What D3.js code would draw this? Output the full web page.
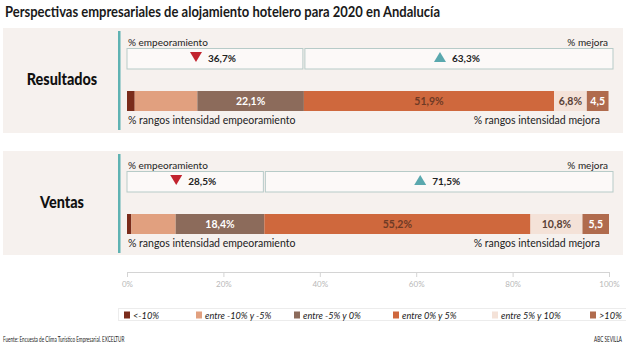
<!DOCTYPE html>
<html>
<head>
<meta charset="utf-8">
<script src="https://cdn.jsdelivr.net/npm/d3@7"></script>
<style>
  body { margin: 0; background: #fff; }
  svg { display: block; font-family: Lato, "Open Sans", sans-serif; }
</style>
</head>
<body>
<script>
// data
const categories = ["Resultados", "Ventas"];
const empeoramiento = [36.7, 28.5];
const mejora = [63.3, 71.5];
const rangeNames = ["<-10%", "entre -10% y -5%", "entre -5% y 0%", "entre 0% y 5%", "entre 5% y 10%", ">10%"];
const resultadosRanges = [1.6, 13.0, 22.1, 51.9, 6.8, 4.5];
const ventasRanges = [0.9, 9.2, 18.4, 55.2, 10.8, 5.5];
const axisTicks = [0, 20, 40, 60, 80, 100];

const rangeColors = ["#7a2c1b", "#e1a07f", "#8c6b5b", "#cf683d", "#f4e2d8", "#b06b4d"];
const labelColors = [null, null, "#fff", "#6e3a25", "#5a4035", "#fff"];

const w = 626, h = 349;
const svg = d3.select("body").append("svg").attr("width", w).attr("height", h);

const x = d3.scaleLinear().domain([0, 100]).range([127, 609]);
const fmt = v => d3.format(".1f")(v).replace(".", ",");

// title (condensed look)
svg.append("text")
   .attr("x", 5).attr("y", 17)
   .attr("font-size", 16).attr("font-weight", "bold").attr("fill", "#1a1a1a")
   .attr("textLength", 435).attr("lengthAdjust", "spacingAndGlyphs")
   .text("Perspectivas empresariales de alojamiento hotelero para 2020 en Andalucía");

const panelTops = [28, 151];
const allRanges = [resultadosRanges, ventasRanges];

categories.forEach((cat, i) => {
	const y0 = panelTops[i];
	const g = svg.append("g").attr("transform", "translate(0," + y0 + ")");

	g.append("rect").attr("x", 3).attr("y", 0).attr("width", 620).attr("height", i === 0 ? 105 : 104)
	 .attr("fill", "#f6f1ee");
	g.append("rect").attr("x", 118).attr("y", 3).attr("width", 2.5).attr("height", 99).attr("fill", "#5fb2b2");

	const catText = g.append("text").attr("x", 62).attr("y", 57).attr("text-anchor", "middle")
	 .attr("font-size", 16).attr("font-weight", "900").attr("fill", "#111").text(cat);
	const cw = catText.node().getComputedTextLength();
	catText.attr("textLength", cw * 0.9).attr("lengthAdjust", "spacingAndGlyphs");

	g.append("text").attr("x", 128).attr("y", 18).attr("font-size", 10).attr("fill", "#222").text("% empeoramiento");
	g.append("text").attr("x", 608).attr("y", 18).attr("text-anchor", "end").attr("font-size", 10).attr("fill", "#222").text("% mejora");

	// summary boxes
	const split = x(empeoramiento[i]);
	const boxes = [
		{ x0: x(0), x1: split - 1, v: empeoramiento[i], up: false },
		{ x0: split + 1, x1: x(100) + 4, v: mejora[i], up: true }
	];
	boxes.forEach(b => {
		g.append("rect").attr("x", b.x0).attr("y", 20.5).attr("width", b.x1 - b.x0).attr("height", 20.5)
		 .attr("fill", "#fcf9f8").attr("stroke", "#b7cbc8").attr("stroke-width", 1);
		const cx = (b.x0 + b.x1) / 2;
		const lg = g.append("g").attr("transform", "translate(" + cx + ",34)");
		const t = lg.append("text").attr("font-size", 10).attr("font-weight", "bold")
		 .attr("fill", "#222").text(fmt(b.v) + "%");
		const tw = t.node().getComputedTextLength();
		t.attr("x", -tw / 2 + 7);
		const tx = -tw / 2 - 5;
		const tri = b.up
			? [[tx - 6, 0], [tx + 6, 0], [tx, -10]]
			: [[tx - 6, -10], [tx + 6, -10], [tx, 0]];
		lg.append("path").attr("d", d3.line()(tri) + "Z").attr("fill", b.up ? "#5aa8ae" : "#c2232e");
	});

	// stacked bar
	const ranges = allRanges[i];
	let acc = 0;
	const segs = ranges.map((v, j) => { const s = { v, j, a: acc }; acc += v; return s; });
	g.selectAll("rect.seg").data(segs).enter().append("rect")
	 .attr("class", "seg")
	 .attr("x", d => x(d.a)).attr("y", 63)
	 .attr("width", d => x(d.a + d.v) - x(d.a)).attr("height", 20)
	 .attr("fill", d => rangeColors[d.j]);
	g.selectAll("text.seg").data(segs.filter(d => d.j >= 2)).enter().append("text")
	 .attr("class", "seg")
	 .attr("x", d => x(d.a + d.v / 2)).attr("y", 77)
	 .attr("text-anchor", "middle").attr("font-size", 10.5).attr("font-weight", "bold")
	 .attr("fill", d => labelColors[d.j])
	 .text(d => fmt(d.v) + (d.j === 5 ? "" : "%"));

	g.append("text").attr("x", 128).attr("y", 96).attr("font-size", 10.5).attr("fill", "#222").text("% rangos intensidad empeoramiento");
	g.append("text").attr("x", 600).attr("y", 96).attr("text-anchor", "end").attr("font-size", 10.5).attr("fill", "#222").text("% rangos intensidad mejora");
});

// axis
const axis = svg.append("g").attr("transform", "translate(0,272)")
	.call(d3.axisBottom(x).tickValues(axisTicks).tickFormat(d => d + "%").tickSize(5).tickSizeOuter(0));
axis.select(".domain").attr("stroke", "#d4d4d4");
axis.selectAll(".tick line").attr("stroke", "#d4d4d4");
axis.selectAll(".tick text").attr("fill", "#b8b8b8").attr("font-size", 8).attr("font-family", "Lato, sans-serif").attr("dy", "0.9em");

// legend
const legendX = [124, 196, 294, 393, 492, 590];
svg.append("rect").attr("x", 118.5).attr("y", 308.5).attr("width", 510).attr("height", 12)
   .attr("fill", "#fff").attr("stroke", "#ececec");
const lg = svg.selectAll("g.legend").data(rangeNames).enter().append("g")
	.attr("class", "legend").attr("transform", (d, i) => "translate(" + legendX[i] + ",311)");
lg.append("rect").attr("width", 6).attr("height", 7).attr("y", 0.5).attr("fill", (d, i) => rangeColors[i]);
lg.append("text").attr("x", 9).attr("y", 7.8).attr("font-size", 9.2).attr("font-style", "italic")
  .attr("fill", "#1a1a1a").text(d => d);

// footer (narrow, squeezed horizontally)
svg.append("text").attr("transform", "translate(3,342) scale(0.62,1)")
   .attr("font-size", 7.5).attr("fill", "#222")
   .text("Fuente: Encuesta de Clima Turístico Empresarial. EXCELTUR");
svg.append("text").attr("transform", "translate(622,342) scale(0.62,1)")
   .attr("text-anchor", "end").attr("font-size", 7.5).attr("fill", "#222")
   .text("ABC SEVILLA");
</script>
</body>
</html>
